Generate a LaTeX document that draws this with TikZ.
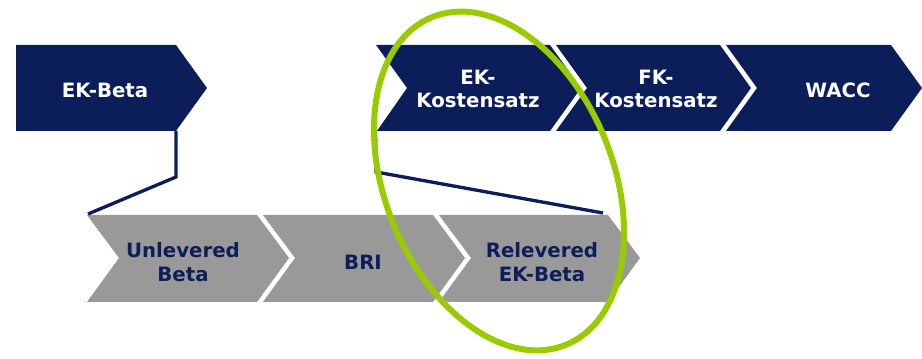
\documentclass[tikz,border=0pt]{standalone}
\usepackage{fontspec}
\setmainfont{DejaVu Sans}
\definecolor{navy}{RGB}{12,30,90}
\definecolor{stepgray}{RGB}{153,153,153}
\definecolor{lime}{RGB}{153,204,0}
\tikzset{
  topstep/.style={fill=navy},
  botstep/.style={fill=stepgray},
  toplabel/.style={text=white, font=\fontsize{14.8}{17.6}\selectfont\bfseries, align=center, inner sep=0pt},
  botlabel/.style={text=navy, font=\fontsize{14.8}{17.6}\selectfont\bfseries, align=center, inner sep=0pt},
  link/.style={draw=navy, line width=2.5pt},
  focus/.style={draw=lime, line width=4.5pt}
}
\begin{document}
\begin{tikzpicture}[x=0.75pt, y=-0.75pt]
\useasboundingbox (0,0) rectangle (922,359);

% upper process chain
\fill[topstep] (16,45) -- (176,45) -- (207,88) -- (176,131) -- (16,131) -- cycle;
\fill[topstep] (376,45) -- (550,45) -- (581,88) -- (550,131) -- (377,131) -- (407,88) -- cycle;
\fill[topstep] (556,45) -- (720,45) -- (751,88) -- (720,131) -- (556,131) -- (587,88) -- cycle;
\fill[topstep] (726,45) -- (891,45) -- (922,88) -- (891,131) -- (726,131) -- (757,88) -- cycle;

% lower detail chain
\fill[botstep] (87,215) -- (257,215) -- (289,258) -- (257,302) -- (87,302) -- (119,258) -- cycle;
\fill[botstep] (263,215) -- (433,215) -- (465,258) -- (433,302) -- (263,302) -- (295,258) -- cycle;
\fill[botstep] (439,215) -- (608,215) -- (640,258) -- (608,302) -- (439,302) -- (471,258) -- cycle;

% labels
\node[toplabel] (ekbeta) at (105,90) {EK-Beta};
\node[toplabel] (ekkost) at (478,89) {EK-\\Kostensatz};
\node[toplabel] (fkkost) at (656,89) {FK-\\Kostensatz};
\node[toplabel] (wacc) at (838,90) {WACC};
\node[botlabel] (unlev) at (183,262) {Unlevered\\Beta};
\node[botlabel] (bri) at (363,262) {BRI};
\node[botlabel] (relev) at (542,262) {Relevered\\EK-Beta};

% anchor points of the zoom connectors
\coordinate (ekbetaB) at (176,131);
\coordinate (ekbetaK) at (176,177);
\coordinate (unlevT) at (88,214);
\coordinate (ekkostB) at (375.5,131);
\coordinate (ekkostK) at (376,172);
\coordinate (relevT) at (603,213);

\draw[link] (ekbetaB) -- (ekbetaK) -- (unlevT);
\draw[link] (ekkostB) -- (ekkostK) -- (relevT);

% highlight ring
\draw[focus, shift={(499,181)}, rotate=22.3] (0,0) ellipse [x radius=114, y radius=177];
\end{tikzpicture}
\end{document}
